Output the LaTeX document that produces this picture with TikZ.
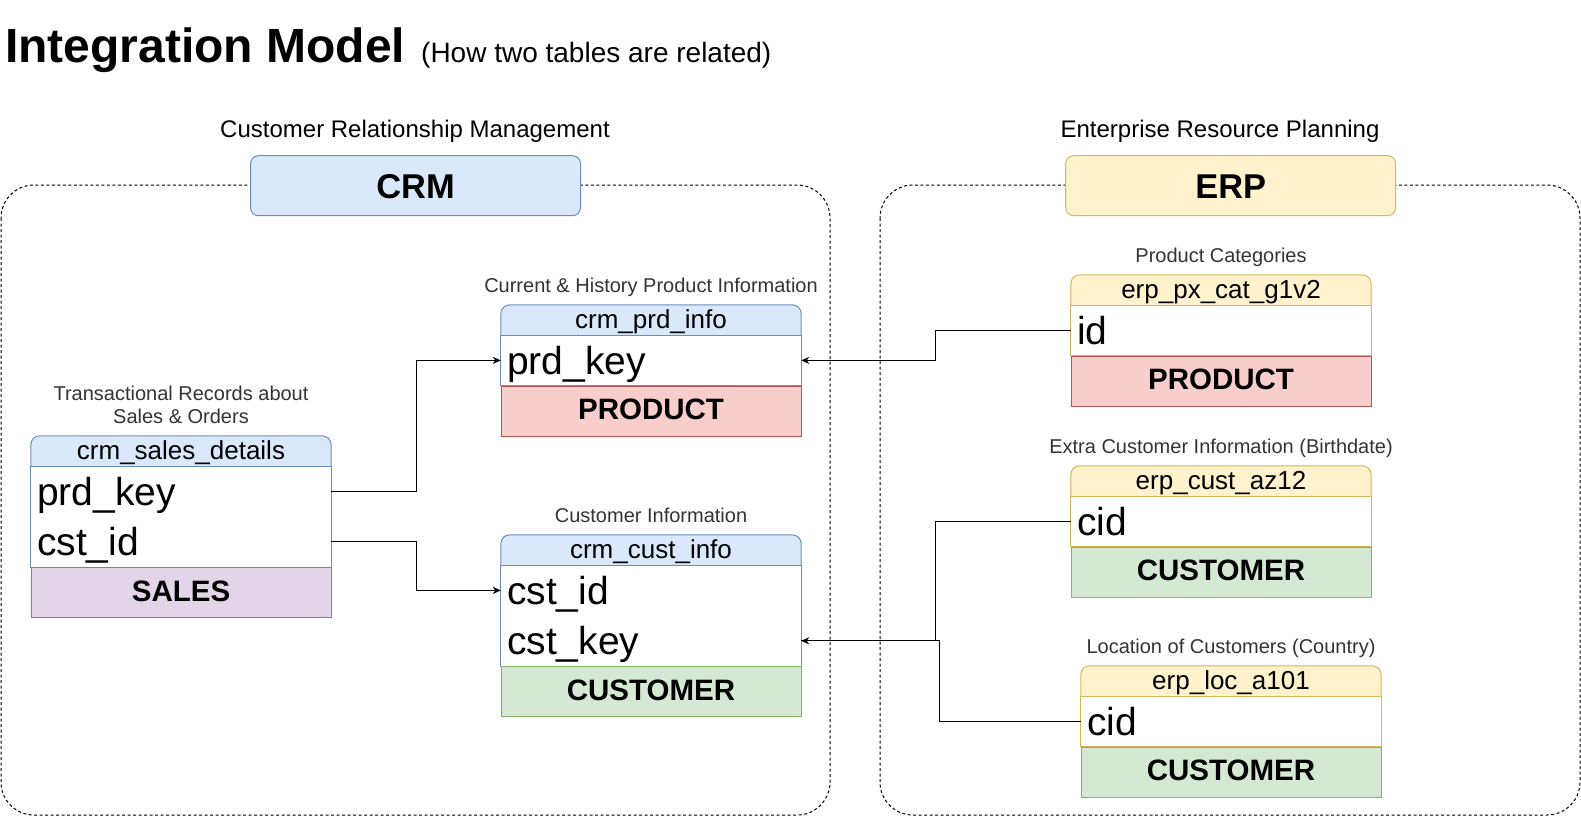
\documentclass[tikz,border=0pt]{standalone}
\usepackage{fontspec}
\setmainfont{Liberation Sans}
\usetikzlibrary{positioning,arrows.meta,backgrounds}

\definecolor{crmfill}{HTML}{DAE8FC}
\definecolor{crmline}{HTML}{6C8EBF}
\definecolor{erpfill}{HTML}{FFF2CC}
\definecolor{erpline}{HTML}{D6B656}
\definecolor{prodfill}{HTML}{F8CECC}
\definecolor{prodline}{HTML}{B85450}
\definecolor{custfill}{HTML}{D5E8D4}
\definecolor{custline}{HTML}{82B366}
\definecolor{salesfill}{HTML}{E1D5E7}
\definecolor{salesline}{HTML}{9673A6}
\definecolor{labelgray}{HTML}{333333}

\tikzset{
  frame/.style={draw=black, line width=1pt, dash pattern=on 3pt off 2.5pt, rounded corners=33pt},
  sysbox/.style={draw, line width=1pt, rounded corners=8pt, minimum width=330pt, minimum height=60pt,
    inner sep=0pt, text height=24.6pt, text depth=0pt, font=\fontsize{34.4}{36}\selectfont\bfseries},
  syslabel/.style={inner sep=0pt, font=\fontsize{24}{26}\selectfont},
  tlabel/.style={inner sep=0pt, text depth=0pt, align=center, text=labelgray, font=\fontsize{20}{23.3}\selectfont},
  thead/.style={minimum width=300pt, minimum height=30pt, inner sep=0pt, text height=17pt, text depth=0pt,
    font=\fontsize{26}{28}\selectfont},
  trow/.style={minimum width=300pt, minimum height=50pt, inner sep=0pt, text width=288pt, align=left,
    text height=28pt, text depth=0pt, font=\fontsize{39}{42}\selectfont},
  tfoot/.style={draw, line width=1pt, minimum width=300pt, minimum height=50pt, inner sep=0pt,
    text height=17pt, text depth=0pt, font=\fontsize{29.5}{31}\selectfont\bfseries},
  link/.style={line width=1.1pt, -{Stealth[length=8pt,width=7pt,inset=2.5pt]}},
  plain/.style={line width=1.1pt}
}

\begin{document}
\begin{tikzpicture}[x=1pt,y=-1pt]
\useasboundingbox (0,0) rectangle (1581,816);

% title
\node[anchor=base west, inner sep=0pt, font=\fontsize{48}{50}\selectfont\bfseries] (title) at (5,63) {Integration Model};
\node[anchor=base west, inner sep=0pt, font=\fontsize{28}{30}\selectfont] (subtitle) at (421,63) {(How two tables are related)};

% systems
\draw[frame] (1,185) rectangle (830,815);
\draw[frame] (880,185) rectangle (1580,815);
\node[sysbox, fill=crmfill, draw=crmline] (crm) at (415.5,185.7) {CRM};
\node[sysbox, fill=erpfill, draw=erpline] (erp) at (1230.7,185.7) {ERP};
\node[syslabel, anchor=base] (crmlabel) at (415,137.5) {Customer Relationship Management};
\node[syslabel, anchor=base] (erplabel) at (1220,137.5) {Enterprise Resource Planning};

% CRM tables
\node[thead] (salesH) at (181,451) {crm\_sales\_details};
\node[trow, below=0pt of salesH] (salesK) {prd\_key};
\node[trow, below=0pt of salesK] (salesC) {cst\_id};
\node[tfoot, fill=salesfill, draw=salesline, below=0pt of salesC] (salesF) {SALES};
\node[tlabel, above=12pt of salesH] {Transactional Records about\\Sales \& Orders};

\node[thead] (prdH) at (651,320) {crm\_prd\_info};
\node[trow, below=0pt of prdH] (prdK) {prd\_key};
\node[tfoot, fill=prodfill, draw=prodline, below=0pt of prdK] (prdF) {PRODUCT};
\node[tlabel, above=12pt of prdH] {Current \& History Product Information};

\node[thead] (custH) at (651,550) {crm\_cust\_info};
\node[trow, below=0pt of custH] (custI) {cst\_id};
\node[trow, below=0pt of custI] (custK) {cst\_key};
\node[tfoot, fill=custfill, draw=custline, below=0pt of custK] (custF) {CUSTOMER};
\node[tlabel, above=12pt of custH] {Customer Information};

% ERP tables
\node[thead] (catH) at (1221,290) {erp\_px\_cat\_g1v2};
\node[trow, below=0pt of catH] (catI) {id};
\node[tfoot, fill=prodfill, draw=prodline, below=0pt of catI] (catF) {PRODUCT};
\node[tlabel, above=12pt of catH] {Product Categories};

\node[thead] (azH) at (1221,481) {erp\_cust\_az12};
\node[trow, below=0pt of azH] (azC) {cid};
\node[tfoot, fill=custfill, draw=custline, below=0pt of azC] (azF) {CUSTOMER};
\node[tlabel, above=12pt of azH] {Extra Customer Information (Birthdate)};

\node[thead] (locH) at (1231,681) {erp\_loc\_a101};
\node[trow, below=0pt of locH] (locC) {cid};
\node[tfoot, fill=custfill, draw=custline, below=0pt of locC] (locF) {CUSTOMER};
\node[tlabel, above=12pt of locH] {Location of Customers (Country)};

% table frames
\begin{scope}[on background layer]
\foreach \h/\a/\b/\f/\l in {salesH/salesK/salesC/crmfill/crmline, prdH/prdK/prdK/crmfill/crmline,
    custH/custI/custK/crmfill/crmline, catH/catI/catI/erpfill/erpline,
    azH/azC/azC/erpfill/erpline, locH/locC/locC/erpfill/erpline}{
  \filldraw[fill=\f, draw=\l, line width=1pt, rounded corners=9pt]
    (\h.south west) -- (\h.north west) -- (\h.north east) -- (\h.south east);
  \draw[\l, fill=white, line width=1pt] (\a.north west) rectangle (\b.south east);
}
\end{scope}

% relations
\draw[link] (salesK.east) -- ++(85,0) |- (prdK.west);
\draw[link] (salesC.east) -- ++(85,0) |- (custI.west);
\draw[link] (catI.west) -- ++(-135,0) |- (prdK.east);
\draw[link] (azC.west) -- ++(-135,0) |- (custK.east);
\draw[plain] (locC.west) -- ++(-141,0) |- (custK.east);
\end{tikzpicture}
\end{document}
